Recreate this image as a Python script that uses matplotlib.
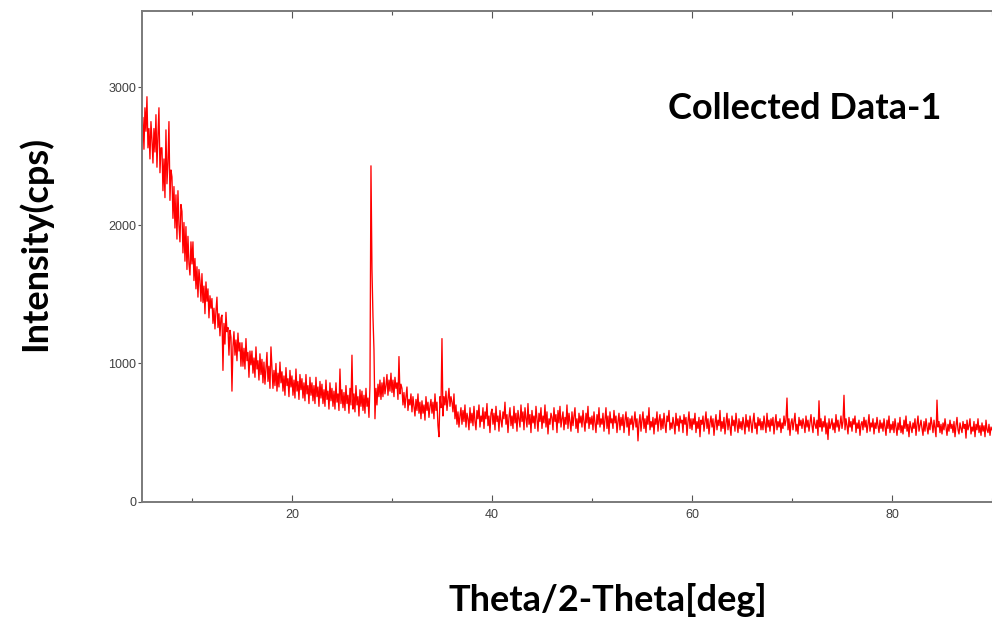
import matplotlib
matplotlib.use("Agg")
import matplotlib.pyplot as plt
import numpy as np

# scan parameters (2-theta grid)
scan_start = 5.0
scan_step = 0.1

# intensity, ten points per degree (5.0 ... 90.0)
counts = [
    2600, 2780, 2550, 2850, 2680, 2930, 2560, 2700, 2480, 2750,  # 5
    2620, 2450, 2700, 2530, 2800, 2420, 2650, 2850, 2380, 2560,  # 6
    2560, 2250, 2480, 2200, 2690, 2300, 2450, 2750, 2180, 2400,  # 7
    2350, 2050, 2280, 1980, 2220, 1900, 2250, 2000, 1880, 2150,  # 8
    2100, 1800, 2020, 1740, 1990, 1680, 1920, 1720, 1640, 1880,  # 9
    1720, 1880, 1600, 1760, 1540, 1700, 1480, 1680, 1600, 1450,  # 10
    1650, 1440, 1560, 1360, 1590, 1450, 1540, 1330, 1490, 1400,  # 11
    1470, 1290, 1400, 1250, 1380, 1480, 1260, 1360, 1200, 1330,  # 12
    1350, 950, 1290, 1140, 1370, 1230, 1260, 1060, 1240, 1190,   # 13
    800, 1120, 1230, 1060, 1170, 1020, 1220, 1090, 1150, 980,    # 14
    1150, 980, 1110, 960, 1180, 1020, 1080, 900, 1090, 990,      # 15
    1090, 930, 1040, 900, 1120, 960, 1020, 880, 1070, 920,       # 16
    1030, 860, 1010, 850, 960, 1080, 870, 980, 820, 1120,        # 17
    970, 820, 950, 840, 1000, 800, 930, 830, 1010, 860,          # 18
    940, 800, 910, 770, 970, 840, 890, 760, 950, 830,            # 19
    910, 770, 880, 750, 960, 800, 870, 740, 920, 810,            # 20
    890, 750, 860, 730, 920, 780, 840, 710, 900, 770,            # 21
    860, 730, 840, 710, 900, 760, 830, 690, 870, 750,            # 22
    850, 710, 810, 690, 880, 740, 800, 670, 860, 730,            # 23
    820, 690, 800, 670, 860, 720, 780, 660, 960, 710,            # 24
    810, 680, 790, 660, 840, 710, 770, 640, 820, 700,            # 25
    1060, 670, 780, 650, 840, 700, 760, 620, 810, 690,           # 26
    800, 660, 770, 640, 820, 690, 750, 610, 840, 2430,           # 27
    1680, 1340, 1100, 600, 820, 700, 850, 760, 880, 740,         # 28
    860, 760, 900, 780, 840, 920, 770, 880, 800, 930,            # 29
    790, 880, 760, 900, 820, 860, 740, 1050, 780, 850,           # 30
    820, 700, 790, 680, 760, 830, 660, 740, 700, 780,            # 31
    650, 760, 690, 620, 740, 660, 780, 640, 720, 600,            # 32
    730, 640, 700, 590, 760, 660, 720, 610, 690, 740,            # 33
    640, 720, 600, 780, 660, 720, 550, 470, 760, 680,            # 34
    1180, 620, 760, 700, 800, 660, 740, 820, 690, 760,           # 35
    720, 650, 780, 600, 700, 560, 650, 540, 620, 680,            # 36
    560, 660, 580, 700, 540, 640, 600, 520, 680, 570,            # 37
    640, 550, 690, 580, 520, 660, 600, 700, 540, 620,            # 38
    580, 680, 530, 650, 600, 710, 550, 620, 500, 640,            # 39
    670, 560, 640, 520, 690, 580, 620, 510, 660, 590,            # 40
    540, 650, 600, 720, 560, 630, 500, 610, 680, 550,            # 41
    620, 530, 690, 570, 640, 510, 660, 600, 540, 700,            # 42
    580, 650, 520, 680, 600, 540, 710, 560, 630, 500,            # 43
    660, 570, 620, 530, 690, 600, 510, 640, 580, 680,            # 44
    530, 620, 570, 700, 540, 650, 490, 600, 560, 640,            # 45
    610, 520, 680, 580, 630, 500, 660, 570, 690, 540,            # 46
    600, 650, 520, 610, 560, 700, 530, 640, 580, 510,            # 47
    650, 550, 620, 680, 530, 600, 500, 640, 570, 620,            # 48
    540, 660, 580, 510, 640, 570, 690, 530, 610, 560,            # 49
    620, 520, 650, 570, 500, 630, 560, 680, 540, 600,            # 50
    560, 640, 510, 600, 680, 530, 620, 490, 650, 570,            # 51
    600, 530, 660, 570, 620, 500, 580, 640, 520, 610,            # 52
    550, 630, 500, 590, 650, 540, 610, 480, 600, 560,            # 53
    620, 520, 580, 650, 540, 600, 440, 570, 630, 510,            # 54
    590, 650, 530, 600, 500, 620, 560, 680, 520, 580,            # 55
    540, 610, 490, 600, 560, 650, 510, 590, 630, 520,            # 56
    600, 530, 640, 560, 500, 620, 580, 660, 520, 570,            # 57
    530, 610, 560, 490, 640, 550, 600, 510, 620, 570,            # 58
    590, 500, 630, 560, 610, 480, 580, 650, 530, 600,            # 59
    520, 600, 560, 640, 500, 580, 530, 610, 470, 590,            # 60
    560, 620, 510, 580, 650, 530, 600, 490, 570, 620,            # 61
    540, 600, 480, 570, 630, 520, 590, 550, 660, 510,            # 62
    580, 530, 610, 490, 570, 640, 520, 600, 540, 480,            # 63
    620, 550, 590, 510, 640, 560, 500, 600, 530, 580,            # 64
    520, 610, 560, 490, 630, 540, 590, 510, 620, 570,            # 65
    500, 580, 640, 530, 570, 490, 610, 550, 600, 520,            # 66
    580, 520, 620, 560, 500, 640, 540, 590, 510, 600,            # 67
    550, 610, 490, 570, 630, 520, 580, 540, 600, 500,            # 68
    570, 530, 620, 550, 590, 750, 520, 600, 480, 570,            # 69
    600, 520, 580, 640, 510, 560, 490, 610, 550, 590,            # 70
    530, 600, 560, 500, 620, 540, 590, 510, 570, 630,            # 71
    550, 500, 610, 560, 530, 590, 480, 730, 540, 600,            # 72
    510, 580, 540, 620, 490, 570, 450, 600, 530, 560,            # 73
    600, 520, 570, 500, 630, 540, 590, 510, 560, 620,            # 74
    530, 580, 770, 520, 600, 550, 490, 610, 540, 580,            # 75
    510, 600, 560, 620, 500, 570, 530, 590, 480, 560,            # 76
    580, 520, 610, 540, 590, 500, 560, 630, 510, 570,            # 77
    540, 600, 490, 570, 530, 610, 550, 500, 590, 530,            # 78
    570, 510, 600, 540, 480, 590, 530, 620, 500, 560,            # 79
    520, 580, 500, 600, 540, 480, 570, 520, 610, 500,            # 80
    550, 490, 590, 530, 620, 510, 560, 470, 580, 540,            # 81
    500, 570, 530, 600, 480, 560, 620, 510, 550, 590,            # 82
    530, 480, 580, 510, 600, 540, 490, 570, 520, 610,            # 83
    560, 500, 590, 530, 470, 735, 540, 580, 500, 560,            # 84
    490, 570, 520, 600, 540, 480, 560, 510, 590, 530,            # 85
    560, 500, 580, 470, 550, 610, 520, 490, 570, 530,            # 86
    500, 580, 530, 560, 460, 590, 520, 550, 600, 490,            # 87
    540, 510, 580, 470, 560, 520, 600, 500, 550, 480,            # 88
    570, 510, 550, 470, 590, 520, 500, 560, 480, 540,            # 89
    520,                                                         # 90
]

x_major = [20, 40, 60, 80]
x_minor = [10, 30, 50, 70, 90]
y_major = [0, 1000, 2000, 3000]

two_theta = scan_start + scan_step * np.arange(len(counts))

fig = plt.figure(figsize=(9.92, 6.19), dpi=100)
ax = fig.add_axes([0.1431, 0.1895, 0.8569, 0.7927])

ax.plot(two_theta, counts, color="#FF0000", linewidth=0.95)

ax.set_xlim(5, 90)
ax.set_ylim(0, 3550)
ax.set_xticks(x_major)
ax.set_xticks(x_minor, minor=True)
ax.set_yticks(y_major)

for side in ("left", "bottom", "top"):
    ax.spines[side].set_color("#7A7A7A")
    ax.spines[side].set_linewidth(1.4)
ax.spines["right"].set_visible(False)

ax.tick_params(axis="x", which="both", direction="in", top=True, color="#555555",
               labelsize=9, labelcolor="#404040", pad=5)
ax.tick_params(axis="x", which="major", length=5, width=0.8)
ax.tick_params(axis="x", which="minor", length=3, width=0.8)
ax.tick_params(axis="y", direction="out", length=3, width=0.8, color="#555555",
               labelsize=9, labelcolor="#404040", pad=1)
for lbl in ax.get_xticklabels() + ax.get_yticklabels():
    lbl.set_family("Liberation Sans")

label_font = dict(family="Lato", weight="bold", size=26, color="black")
fig.text(0.613, 0.031, "Theta/2-Theta[deg]", ha="center", va="center", **label_font)
fig.text(0.035, 0.607, "Intensity(cps)", ha="center", va="center", rotation=90, **label_font)
fig.text(0.811, 0.8255, "Collected Data-1", ha="center", va="center", **label_font)

fig.savefig("out.png", dpi=100)
